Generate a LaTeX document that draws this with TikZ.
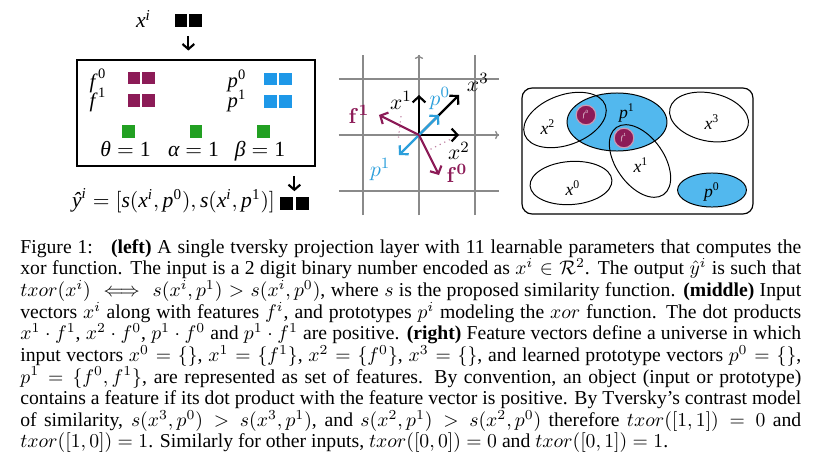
\documentclass[tikz,border=0pt]{standalone}
\usepackage{amsmath}
\usepackage[no-math]{fontspec}
\setmainfont{Liberation Serif}
\usepackage{tikz}
\usetikzlibrary{arrows.meta, positioning, calc, shapes.geometric}
\definecolor{featc}{HTML}{8C1B57}
\definecolor{protoc}{HTML}{1E98E8}
\definecolor{parc}{HTML}{22A022}
\definecolor{protol}{HTML}{52B8EE}
\definecolor{vblue}{HTML}{2C9FDB}
\definecolor{gridc}{HTML}{8A8A8A}
\newcommand{\tmi}[1]{\textit{#1}}

\begin{document}
\begin{tikzpicture}[x=0.5084pt, y=-0.5084pt,
  sq/.style={minimum size=6.5pt, inner sep=0pt, outer sep=0pt},
  ksq/.style={sq, fill=black},
  msq/.style={sq, fill=featc},
  bsq/.style={sq, fill=protoc},
  gsq/.style={sq, fill=parc},
  lbl/.style={inner sep=0pt, font=\fontsize{11}{12}\selectfont},
  flbl/.style={inner sep=0pt, font=\fontsize{10.5}{11}\selectfont},
  vlbl/.style={inner sep=0pt, font=\fontsize{11}{13}\selectfont},
  slbl/.style={inner sep=0pt, font=\fontsize{9}{10}\selectfont},
  arr/.style={-{Straight Barb[length=2.6pt, width=6pt]}, line width=1.1pt},
  vec/.style={-{Straight Barb[length=3pt, width=6.5pt]}, line width=1.1pt},
  proj/.style={featc!55, dotted, line width=0.6pt},
  set/.style={draw, ellipse, inner sep=0pt, line width=0.5pt},
  node distance=1pt
]
\useasboundingbox (0,0) rectangle (830,464);

% left: projection layer
\node[draw, line width=0.8pt, minimum width=121pt, minimum height=53.9pt, inner sep=0pt] (layer) at (196,113) {};

\node[ksq] (xin0) at (181,20.5) {};
\node[ksq, right=of xin0] (xin1) {};
\node[lbl, anchor=base] (xlab) at (143.5,28) {$\tmi{x}^{\tmi{i}}$};
\coordinate (xmid) at ($(xin0.south east)!0.5!(xin1.south west)$);
\draw[arr, shorten <=4.6pt, shorten >=4.4pt] (xmid) -- (xmid |- layer.north);

\node[msq] (f0a) at (134,78) {};
\node[msq, right=of f0a] (f0b) {};
\node[msq] (f1a) at (134,100.5) {};
\node[msq, right=of f1a] (f1b) {};
\node[flbl, anchor=base] (f0lab) at (98,88) {$\tmi{f}^{\,\text{0}}$};
\node[flbl, anchor=base] (f1lab) at (98,107) {$\tmi{f}^{\,\text{1}}$};

\node[bsq] (p0a) at (270.5,79) {};
\node[bsq, right=of p0a] (p0b) {};
\node[bsq] (p1a) at (270.5,101.7) {};
\node[bsq, right=of p1a] (p1b) {};
\node[flbl, anchor=base] (p0lab) at (237,87) {$\tmi{p}^{\text{0}}$};
\node[flbl, anchor=base] (p1lab) at (237,107.5) {$\tmi{p}^{\text{1}}$};

\node[gsq] (gth) at (128.5,131.5) {};
\node[gsq] (gal) at (196,131.5) {};
\node[gsq] (gbe) at (263.5,131.5) {};
\node[lbl, anchor=base] (thlab) at (125.5,156.5) {$\tmi{θ} = \text{1}$};
\node[lbl, anchor=base] (allab) at (193.5,156.5) {$\tmi{α} = \text{1}$};
\node[lbl, anchor=base] (belab) at (260,156.5) {$\tmi{β} = \text{1}$};

\node[ksq] (yout0) at (286.5,203.5) {};
\node[ksq, right=1.5pt of yout0] (yout1) {};
\coordinate (ymid) at ($(yout0.north east)!0.5!(yout1.north west)$);
\draw[arr, shorten <=4.6pt, shorten >=3pt] (ymid |- layer.south) -- (ymid);
\node[lbl, anchor=base] (ylab) at (173.5,207) {$\tmi{ŷ}^{\tmi{i}} = [\tmi{s}(\tmi{x}^{\tmi{i}}, \tmi{p}^{\text{0}}), \tmi{s}(\tmi{x}^{\tmi{i}}, \tmi{p}^{\text{1}})]$};

% middle: vectors
\begin{scope}[shift={(419,135)}, x=20.34pt, y=20.34pt]
\draw[gridc, line width=0.65pt] (-2,-2) grid (2,2);
\draw[gridc, line width=0.65pt, -{To[length=2pt]}] (0,-2) -- (0,2);
\draw[gridc, line width=0.65pt, -{To[length=2pt]}] (-2,0) -- (2,0);
\coordinate (o) at (0,0);
\coordinate (x1) at (0,1);
\coordinate (x2) at (1,0);
\coordinate (x3) at (1,1);
\coordinate (p0) at (0.5,0.5);
\coordinate (p1) at (-0.5,-0.5);
\coordinate (f0) at (0.5,-1);
\coordinate (f1) at (-1,0.5);
\coordinate (dA) at (-0.45,0.47);
\coordinate (dB) at (-0.52,-0.12);
\draw[proj] (x2) -- ($(o)!(x2)!(f0)$);
\draw[proj] (dA) -- (dB);
\draw[vec] (o) -- (x3);
\draw[vec] (o) -- (x1);
\draw[vec] (o) -- (x2);
\draw[vec, vblue] (o) -- (p0);
\draw[vec, vblue] (o) -- (p1);
\draw[vec, featc] (o) -- (f1);
\draw[vec, featc] (o) -- (f0);
\node[vlbl] (x1lab) at (-0.45,0.87) {$x^1$};
\node[vlbl, text=vblue] (p0lab2) at (0.52,0.92) {$p^0$};
\node[vlbl] (x3lab) at (1.47,1.32) {$x^3$};
\node[vlbl, text=featc] (f1lab2) at (-1.5,0.52) {$\mathbf{f}^{\mathbf{1}}$};
\node[vlbl] (x2lab) at (1.0,-0.4) {$x^2$};
\node[vlbl, text=featc] (f0lab2) at (0.95,-0.97) {$\mathbf{f}^{\mathbf{0}}$};
\node[vlbl, text=vblue] (p1lab2) at (-0.97,-0.87) {$p^1$};
\end{scope}

% right: sets of features
\node[draw, rounded corners=5pt, line width=0.6pt, minimum width=117.4pt, minimum height=64pt, inner sep=0pt] (univ) at (637.5,151) {};
\node[set, fill=protol, minimum width=50.8pt, minimum height=29.5pt] (p1set) at (617,122) {};
\node[set, fill=protol, minimum width=35pt, minimum height=17.3pt] (p0set) at (712,190) {};
\node[set, minimum width=43.7pt, minimum height=25.4pt, rotate=20] (x2set) at (565,120) {};
\node[set, minimum width=41.7pt, minimum height=24.4pt, rotate=-55] (x1set) at (640,161) {};
\node[set, minimum width=40.7pt, minimum height=24.4pt, rotate=-12] (x3set) at (709,117) {};
\node[set, minimum width=41.7pt, minimum height=21.9pt, rotate=4] (x0set) at (571,183) {};
\node[circle, fill=featc, draw=featc!45, line width=0.6pt, minimum size=10pt, inner sep=0pt, text=white, font=\fontsize{3.5}{4}\selectfont] (f0c) at (586,115) {\textit{f}\textsuperscript{0}};
\node[circle, fill=featc, draw=featc!45, line width=0.6pt, minimum size=10pt, inner sep=0pt, text=white, font=\fontsize{3.5}{4}\selectfont] (f1c) at (624,138) {\textit{f}\textsuperscript{1}};
\node[slbl] (p1lab3) at (627,113) {$\tmi{p}^{\text{1}}$};
\node[slbl] (x2lab3) at (548,127) {$\tmi{x}^{\text{2}}$};
\node[slbl] (x3lab3) at (712,122) {$\tmi{x}^{\text{3}}$};
\node[slbl] (x1lab3) at (641,165) {$\tmi{x}^{\text{1}}$};
\node[slbl] (x0lab3) at (573,188) {$\tmi{x}^{\text{0}}$};
\node[slbl] (p0lab3) at (712,192) {$\tmi{p}^{\text{0}}$};

% caption
\node[anchor=north west, inner sep=0pt, text width=397pt, align=justify, font=\fontsize{10}{11}\selectfont] (cap) at (20,239) {\noindent Figure 1:\hspace{0.5em} \textbf{(left)} A single tversky projection layer with 11 learnable parameters that computes the\linebreak
xor function. The input is a 2 digit binary number encoded as $x^i\in\mathcal{R}^2$. The output $\hat{y}^i$ is such that\linebreak
$txor(x^i)\iff s(x^i,p^1)>s(x^i,p^0)$, where $s$ is the proposed similarity function. \textbf{(middle)} Input\linebreak
vectors $x^i$ along with features $f^i$, and prototypes $p^i$ modeling the $xor$ function. The dot products\linebreak
$x^1\cdot f^1$, $x^2\cdot f^0$, $p^1\cdot f^0$ and $p^1\cdot f^1$ are positive. \textbf{(right)} Feature vectors define a universe in which\linebreak
input vectors $x^0=\{\}$, $x^1=\{f^1\}$, $x^2=\{f^0\}$, $x^3=\{\}$, and learned prototype vectors $p^0=\{\}$,\linebreak
$p^1=\{f^0,f^1\}$, are represented as set of features. By convention, an object (input or prototype)\linebreak
contains a feature if its dot product with the feature vector is positive. By Tversky's contrast model\linebreak
of similarity, $s(x^3,p^0)>s(x^3,p^1)$, and $s(x^2,p^1)>s(x^2,p^0)$ therefore $txor([1,1])=0$ and\linebreak
$txor([1,0])=1$. Similarly for other inputs, $txor([0,0])=0$ and $txor([0,1])=1$.};
\end{tikzpicture}
\end{document}
